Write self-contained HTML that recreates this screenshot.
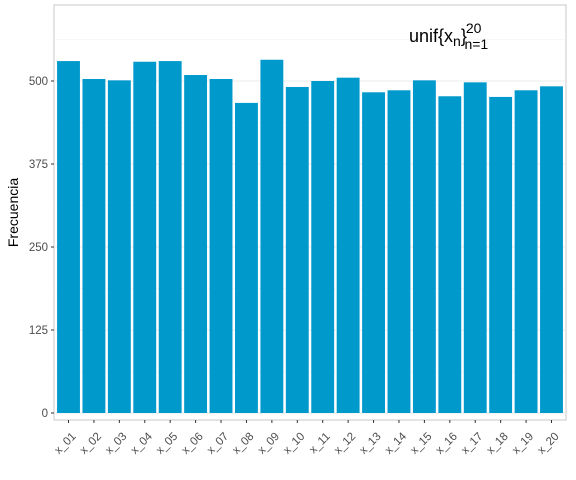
<!DOCTYPE html>
<html><head><meta charset="utf-8"><style>
body{margin:0;background:#fff;}
svg{display:block;font-family:"Liberation Sans",sans-serif;}
</style></head><body>
<svg id="c" width="576" height="480"></svg>
<script>
const categories=["x_01","x_02","x_03","x_04","x_05","x_06","x_07","x_08","x_09","x_10","x_11","x_12","x_13","x_14","x_15","x_16","x_17","x_18","x_19","x_20"];
const values=[530,503,501,529,530,509,503,467,532,491,500,505,483,486,501,477,498,476,486,492];
const yTicks=[0,125,250,375,500];
const NS="http://www.w3.org/2000/svg";
const svg=document.getElementById('c');
const L=54,R=566,T=5,B=420;
const y=v=>413-v*0.664;
const pad=14.5;
const unit=(R-L-2*pad)/(categories.length-1);
const x=i=>L+pad+unit*i;
function mk(t,a,p){const e=document.createElementNS(NS,t);for(const k in a)e.setAttribute(k,a[k]);(p||svg).appendChild(e);return e;}
const bg=mk('rect',{x:L,y:T,width:R-L,height:B-T,fill:'#fff',stroke:'#c8c8c8','stroke-width':1});


[62.5,187.5,312.5,437.5,562.5].forEach(v=>{const g=mk('line',{x1:L,x2:R,y1:y(v),y2:y(v),stroke:'#f0f0f0','stroke-width':0.6});

});
yTicks.forEach(v=>{const g=mk('line',{x1:L,x2:R,y1:y(v),y2:y(v),stroke:'#ebebeb','stroke-width':1});


const tk=mk('line',{x1:L-3,x2:L,y1:y(v),y2:y(v),stroke:'#333'});


const t=mk('text',{x:L-6,y:y(v)+4,'text-anchor':'end','font-size':11.5,fill:'#4d4d4d'});t.textContent=v;

});
categories.forEach((c,i)=>{const w=unit*0.9;
const b=mk('rect',{x:x(i)-w/2,y:y(values[i]),width:w,height:y(0)-y(values[i]),fill:'#0099cc'});


const tk=mk('line',{x1:x(i),x2:x(i),y1:B,y2:B+3,stroke:'#333'});


const ax=x(i)+8,ay=B+17;
const t=mk('text',{x:ax,y:ay,'text-anchor':'end','font-size':11.5,fill:'#4d4d4d',transform:`rotate(-45 ${ax} ${ay})`});t.textContent=c;

});
const yt=mk('text',{x:18,y:(T+B)/2,'text-anchor':'middle','font-size':14,fill:'#000',transform:`rotate(-90 18 ${(T+B)/2})`});yt.textContent='Frecuencia';


const ti=mk('text',{x:409,y:42,'font-size':18,fill:'#000'});


ti.innerHTML='unif{x<tspan font-size="14" dy="4">n</tspan><tspan dy="-4">}</tspan><tspan font-size="14" dx="-1" dy="-9">20</tspan><tspan font-size="14" dx="-17" dy="16">n=1</tspan>';
</script>
</body></html>
